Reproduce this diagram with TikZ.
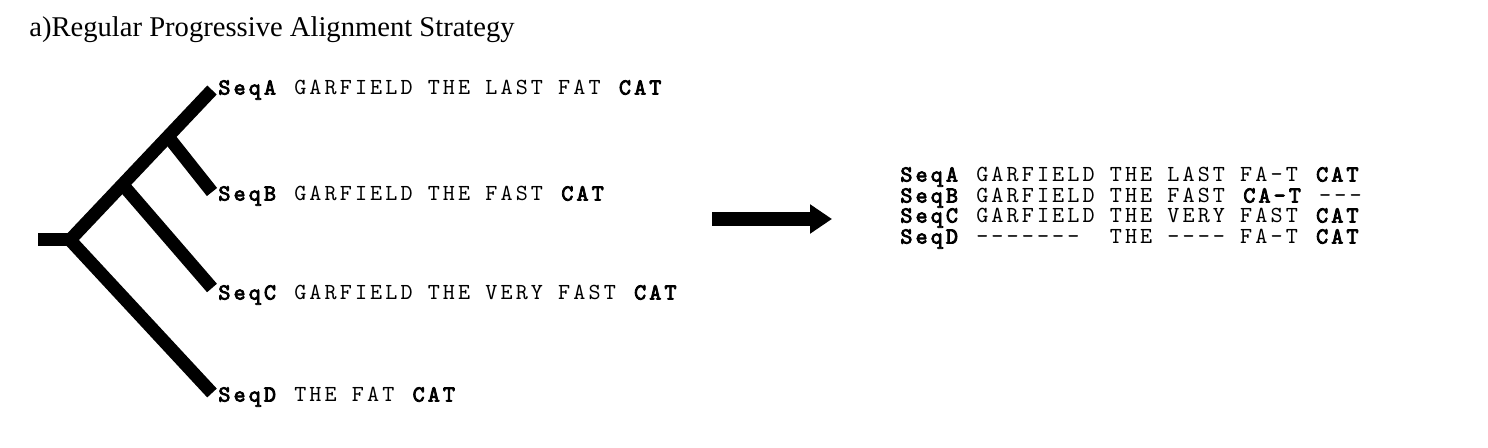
\documentclass[tikz,border=0pt]{standalone}
\usepackage{fontspec}
\setmainfont{Liberation Serif}
\newfontfamily\seqfont{lmmono10-regular.otf}[AutoFakeBold=3.5,LetterSpace=13.5]
\usepackage{tikz}
\newcommand*{\leafX}{212}
\newcommand*{\alnX}{900}
\usetikzlibrary{positioning}
\usetikzlibrary{calc}
\usetikzlibrary{arrows.meta}
\tikzset{TreeStyle/.style={
    line width=6.5pt,% thick black branches
    line cap=butt,
    line join=miter
  },
  seqtext/.style={
    anchor=mid west,
    inner sep=0pt,
    font=\seqfont\fontsize{11.5pt}{11.5pt}\selectfont
  },
  BigArrow/.style={
    line width=7pt,
    -{Triangle[length=11pt,width=14pt]}
  }
}

\begin{document}
\begin{tikzpicture}[x=0.5pt,y=-0.5pt]
    \useasboundingbox (0,0) rectangle (1488,448);

    \node [anchor=base west,inner sep=0pt,font=\fontsize{14.3pt}{16pt}\selectfont] (title) at (29,37)
        {a)Regular Progressive Alignment Strategy};

    % guide tree
    \coordinate (stub) at (38,240);
    \coordinate (root) at (70,240);
    \coordinate (leafA) at (\leafX,90);
    \coordinate (leafB) at (\leafX,192);
    \coordinate (leafC) at (\leafX,288);
    \coordinate (leafD) at (\leafX,393);
    \coordinate (joinC) at ($(root)!0.37!(leafA)$);
    \coordinate (joinB) at ($(root)!0.69!(leafA)$);
    \draw [TreeStyle] (leafA) -- (root) -- (leafD);
    \draw [TreeStyle] (stub) -- (root);
    \draw [TreeStyle] (joinC) -- (leafC);
    \draw [TreeStyle] (joinB) -- (leafB);

    \node [seqtext] (seqA) at (218,90) {\textbf{SeqA} GARFIELD THE LAST FAT \textbf{CAT}};
    \node [seqtext] (seqB) at (218,196) {\textbf{SeqB} GARFIELD THE FAST \textbf{CAT}};
    \node [seqtext] (seqC) at (218,295) {\textbf{SeqC} GARFIELD THE VERY FAST \textbf{CAT}};
    \node [seqtext] (seqD) at (218,397) {\textbf{SeqD} THE FAT \textbf{CAT}};

    % alignment result
    \coordinate (arrowTail) at (712,219);
    \coordinate (arrowTip) at (832,219);
    \draw [BigArrow] (arrowTail) -- (arrowTip);

    \node [seqtext] (alnA) at (\alnX,177) {\textbf{SeqA} GARFIELD THE LAST FA-T \textbf{CAT}};
    \node [seqtext] (alnB) at (\alnX,198) {\textbf{SeqB} GARFIELD THE FAST \textbf{CA-T} ---};
    \node [seqtext] (alnC) at (\alnX,218) {\textbf{SeqC} GARFIELD THE VERY FAST \textbf{CAT}};
    \node [seqtext] (alnD) at (\alnX,239) {\textbf{SeqD} -------~ THE ---- FA-T \textbf{CAT}};
\end{tikzpicture}
\end{document}
